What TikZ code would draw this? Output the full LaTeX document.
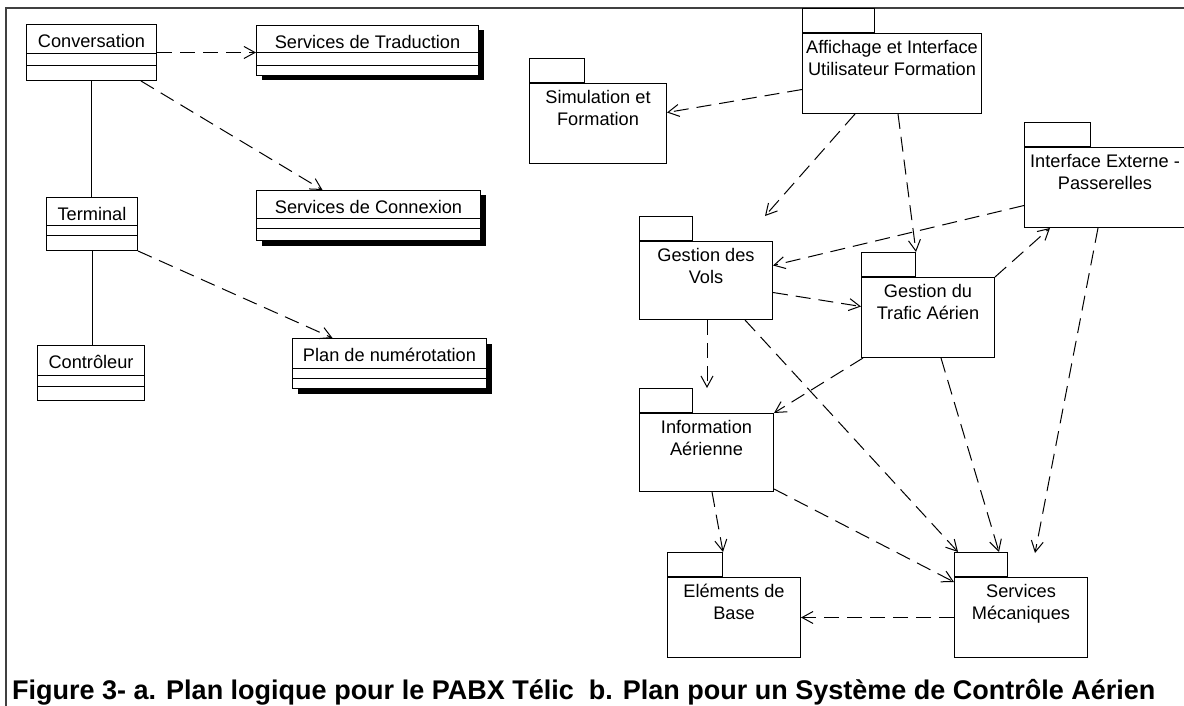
\documentclass[tikz,border=0pt]{standalone}
\usepackage{fontspec}
\setmainfont{Liberation Sans}
\usetikzlibrary{arrows.meta,shadows}

\begin{document}
\begin{tikzpicture}[x=1pt, y=-1pt,
  cls/.style={draw, fill=white, line width=1pt, anchor=north west, inner xsep=0pt, inner ysep=0pt, text height=23pt, font=\fontsize{18.2}{21}\selectfont},
  boldcls/.style={cls, drop shadow={shadow xshift=5pt, shadow yshift=-5pt, fill=black, opacity=1}},
  pkg/.style={draw, fill=white, line width=1pt, anchor=north west, minimum height=80pt},
  tab/.style={draw, fill=white, line width=1pt, anchor=south west, minimum height=24pt},
  pkgtext/.style={anchor=north, align=center, inner sep=7pt, font=\fontsize{18.2}{22}\selectfont},
  dep/.style={line width=1pt, dash pattern=on 15pt off 8pt, -{Straight Barb[length=11pt, width=12pt]}},
  assoc/.style={line width=1pt}]
\useasboundingbox (0,0) rectangle (1184,706);
\draw[line width=2pt, black!75] (6,706) -- (6,8) -- (1184,8);

% a. PABX classes
\node[cls, minimum width=130pt, text depth=33pt] (conv) at (26,24) {Conversation};
\node[cls, minimum width=91pt, text depth=30pt] (term) at (46,197) {Terminal};
\node[cls, minimum width=107pt, text depth=32pt] (ctrl) at (37,345) {Contrôleur};
\node[boldcls, minimum width=222pt, text depth=27pt] (trad) at (256,25) {Services de Traduction};
\node[boldcls, minimum width=224pt, text depth=27pt] (conx) at (256,190) {Services de Connexion};
\node[boldcls, minimum width=194pt, text depth=27pt] (plan) at (292,338) {Plan de numérotation};
\foreach \n/\a/\b in {conv/30/42, term/28/38, ctrl/30/41, trad/28/41, conx/28/38, plan/30/40}{
  \draw[line width=1pt] ([yshift=-\a pt]\n.north west) -- ([yshift=-\a pt]\n.north east);
  \draw[line width=1pt] ([yshift=-\b pt]\n.north west) -- ([yshift=-\b pt]\n.north east);
}
\draw[assoc] (conv.south) -- (conv.south |- term.north);
\draw[assoc] (term.south) -- (term.south |- ctrl.north);
\draw[dep] (conv.east) -- (conv.east -| trad.west);
\draw[dep] ([xshift=-16pt]conv.south east) -- ([xshift=-46pt]conx.north);
\draw[dep] (term.south east) -- ([xshift=-57pt]plan.north);

% b. air traffic control packages
\node[pkg, minimum width=179pt, label={[pkgtext]north:{Affichage et Interface\\Utilisateur Formation}}] (aff) at (802,33) {};
\node[pkg, minimum width=137pt, label={[pkgtext]north:{Simulation et\\Formation}}] (sim) at (529,83) {};
\node[pkg, minimum width=161pt, label={[pkgtext]north:{Interface Externe -\\Passerelles}}] (iext) at (1024,147) {};
\node[pkg, minimum width=133pt, minimum height=78pt, label={[pkgtext]north:{Gestion des\\Vols}}] (vols) at (639,241) {};
\node[pkg, minimum width=133pt, label={[pkgtext]north:{Gestion du\\Trafic Aérien}}] (trafic) at (861,277) {};
\node[pkg, minimum width=134pt, minimum height=78pt, label={[pkgtext]north:{Information\\Aérienne}}] (info) at (639,413) {};
\node[pkg, minimum width=133pt, label={[pkgtext]north:{Eléments de\\Base}}] (elem) at (667,577) {};
\node[pkg, minimum width=133pt, label={[pkgtext]north:{Services\\Mécaniques}}] (meca) at (954,577) {};
\node[tab, minimum width=72pt] (aff-tab) at (aff.north west) {};
\node[tab, minimum width=55pt] (sim-tab) at (sim.north west) {};
\node[tab, minimum width=66pt] (iext-tab) at (iext.north west) {};
\node[tab, minimum width=53pt] (vols-tab) at (vols.north west) {};
\node[tab, minimum width=54pt] (trafic-tab) at (trafic.north west) {};
\node[tab, minimum width=53pt] (info-tab) at (info.north west) {};
\node[tab, minimum width=55pt] (elem-tab) at (elem.north west) {};
\node[tab, minimum width=53pt] (meca-tab) at (meca.north west) {};
\coordinate (vols-hint) at (765,216);
\coordinate (info-hint) at (707,388);
\coordinate (meca-hint) at (1035,553);

\draw[dep] ([yshift=-16pt]aff.west) -- ([yshift=11pt]sim.east);
\draw[dep] ([xshift=-37pt]aff.south) -- (vols-hint);
\draw[dep] ([xshift=6pt]aff.south) -- (trafic-tab.north east);
\draw[dep] ([yshift=-18pt]iext.west) -- ([yshift=15pt]vols.east);
\draw[dep] ([yshift=-12pt]vols.east) -- ([yshift=11pt]trafic.west);
\draw[dep] (trafic.north east) -- ([xshift=26pt]iext.south west);
\draw[dep] ([xshift=74pt]iext.south west) -- (meca-hint);
\draw[dep] ([xshift=68pt]vols.south west) -- (info-hint);
\draw[dep] ([xshift=106pt]vols.south west) -- ([xshift=4pt]meca-tab.north west);
\draw[dep] ([xshift=2pt]trafic.south west) -- (info.north east);
\draw[dep] ([xshift=80pt]trafic.south west) -- ([xshift=-9pt]meca-tab.north east);
\draw[dep] ([yshift=3pt]info.south east) -- ([yshift=-5pt]meca.north west);
\draw[dep] ([xshift=73pt]info.south west) -- (elem-tab.north east);
\draw[dep] (meca.west) -- (elem.east);

\node[anchor=base west, inner sep=0pt, font=\fontsize{27}{30}\selectfont\bfseries] (caption) at (12,699) {Figure 3- a. Plan logique pour le PABX Télic\ \ b. Plan pour un Système de Contrôle Aérien};
\end{tikzpicture}
\end{document}
